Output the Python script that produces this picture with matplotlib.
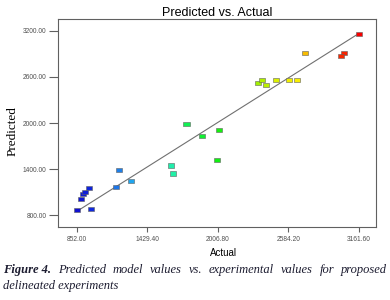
import matplotlib
matplotlib.use("Agg")
import matplotlib.pyplot as plt
import numpy as np
from matplotlib.colors import LinearSegmentedColormap

actual = [852, 969, 885, 906, 920, 950, 1174, 1201, 1294, 1627, 1643,
          1750, 1878, 2020, 2003, 3161.6, 2719, 3039, 3019, 2334, 2370,
          2400, 2484, 2593, 2654]
predicted = [873, 886, 1008, 1077, 1103, 1155, 1168, 1389, 1246, 1449, 1345,
             1982, 1830, 1908, 1518, 3158, 2912, 2912, 2865, 2514, 2553,
             2492, 2557, 2557, 2557]
x_ticks = [852.00, 1429.40, 2006.80, 2584.20, 3161.60]
y_ticks = [800.00, 1400.00, 2000.00, 2600.00, 3200.00]

title = "Predicted vs. Actual"
xlabel = "Actual"
ylabel = "Predicted"
cap_bold = "Figure 4."
cap_rest1 = "Predicted model values vs. experimental values for proposed"
cap_rest2 = "delineated experiments"

cmap = LinearSegmentedColormap.from_list(
    "de", [(0.0, "#1010d0"), (0.06, "#1030e0"), (0.15, "#1e80e8"),
           (0.2, "#20b0f0"), (0.34, "#20f0a8"), (0.39, "#10f050"),
           (0.5, "#10f010"), (0.65, "#a8f000"), (0.72, "#e8f000"),
           (0.78, "#f8f000"), (0.81, "#f8b800"), (0.93, "#f83000"),
           (1.0, "#f80000")])

fig = plt.figure(figsize=(3.9, 3.0), dpi=100)
ax = fig.add_axes([0.149, 0.244, 0.815, 0.693])

rect = [(-1.5, -1), (1.5, -1), (1.5, 1), (-1.5, 1), (-1.5, -1)]
lo, hi = min(actual), max(actual)
ax.plot([lo, hi], [lo, hi], color="#707070", lw=0.8, zorder=1)
ax.scatter(actual, predicted, c=actual, cmap=cmap, vmin=lo, vmax=hi,
           marker=rect, s=20, edgecolors="#606060", linewidths=0.4, zorder=2)

ax.set_xlim(699, 3303)
ax.set_ylim(652, 3352)
ax.set_xticks(x_ticks)
ax.set_xticklabels([f"{v:.2f}" for v in x_ticks])
ax.set_yticks(y_ticks)
ax.set_yticklabels([f"{v:.2f}" for v in y_ticks])
for s in ax.spines.values():
    s.set_color("#606060")
    s.set_linewidth(0.8)
ax.tick_params(axis="y", length=6.5, width=0.8, color="#606060",
               labelsize=4.8, labelcolor="#505050", pad=2)
ax.tick_params(axis="x", length=3.5, width=0.8, color="#606060",
               labelsize=4.8, labelcolor="#505050", pad=3)
for lab in ax.get_xticklabels() + ax.get_yticklabels():
    lab.set_family("Liberation Sans")

fig.text(0.556, 0.958, title, ha="center", va="center",
         family="Liberation Sans", fontsize=9)
fig.text(0.572, 0.158, xlabel, ha="center", va="center",
         family="Liberation Sans", fontsize=7)
fig.text(0.032, 0.563, ylabel, ha="center", va="center", rotation=90,
         family="Liberation Serif", fontsize=9.5)

# caption, first line justified between left and right margins
cfs = 9.0
ccol = "#1c1c30"
left_px, right_px = 3.0, 387.0
W = fig.bbox.width
fig.canvas.draw()
rend = fig.canvas.get_renderer()
words = [(cap_bold, "bold")] + [(w, "normal") for w in cap_rest1.split()]
widths = []
objs = []
for w, wt in words:
    t = fig.text(0, 0.101, w, ha="left", va="center", family="Liberation Serif",
                 fontsize=cfs, style="italic", weight=wt, color=ccol)
    objs.append(t)
    widths.append(t.get_window_extent(renderer=rend).width)
gap = (right_px - left_px - sum(widths)) / (len(words) - 1)
xpos = left_px
for t, wd in zip(objs, widths):
    t.set_x(xpos / W)
    xpos += wd + gap
fig.text(left_px / W, 0.046, cap_rest2, ha="left", va="center",
         family="Liberation Serif", fontsize=cfs, style="italic", color=ccol)

fig.savefig("out.png", dpi=100, facecolor="white")
